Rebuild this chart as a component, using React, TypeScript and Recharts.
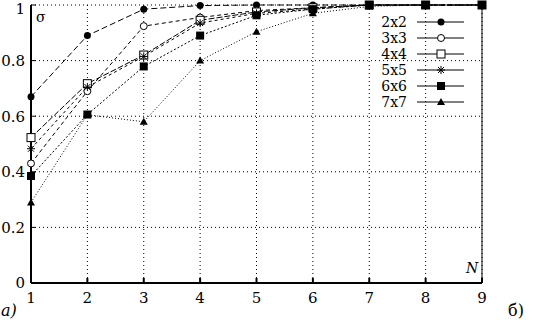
import { LineChart, Line, XAxis, YAxis, CartesianGrid, Customized } from "recharts";

// N (размер обучающей выборки) и доля σ для каждой решётки
const nValues = [1, 2, 3, 4, 5, 6, 7, 8, 9];
const yTicks = [0, 0.2, 0.4, 0.6, 0.8, 1];

const s2x2 = [0.67, 0.89, 0.985, 0.998, 1, 1, 1, 1, 1];
const s3x3 = [0.43, 0.69, 0.924, 0.955, 0.98, 0.99, 1, 1, 1];
const s4x4 = [0.523, 0.717, 0.82, 0.945, 0.975, 0.99, 1, 1, 1];
const s5x5 = [0.483, 0.705, 0.815, 0.935, 0.97, 0.985, 1, 1, 1];
const s6x6 = [0.385, 0.606, 0.779, 0.89, 0.963, 0.985, 1, 1, 1];
const s7x7 = [0.29, 0.605, 0.58, 0.8, 0.904, 0.97, 0.995, 1, 1];

const seriesNames = ["2x2", "3x3", "4x4", "5x5", "6x6", "7x7"];
const seriesValues = [s2x2, s3x3, s4x4, s5x5, s6x6, s7x7];

const FONT = "'DejaVu Serif', serif";

type Shape = "disc" | "ring" | "box" | "star" | "block" | "tri";
const shapes: Shape[] = ["disc", "ring", "box", "star", "block", "tri"];
const dashes = ["6 3", "4 3", "6 2", "3 3", "2 2", "1 2"];

const data = nValues.map((n, i) => {
  const row: Record<string, number> = { n };
  seriesNames.forEach((name, k) => {
    row[name] = seriesValues[k][i];
  });
  return row;
});

function Marker({ shape, cx, cy }: { shape: Shape; cx: number; cy: number }) {
  switch (shape) {
    case "disc":
      return <circle cx={cx} cy={cy} r={3.5} fill="#000" />;
    case "ring":
      return <circle cx={cx} cy={cy} r={3.5} fill="#fff" stroke="#000" strokeWidth={1} />;
    case "box":
      return <rect x={cx - 4} y={cy - 4} width={8} height={8} fill="#fff" stroke="#000" strokeWidth={1} />;
    case "star":
      return (
        <g stroke="#000" strokeWidth={1}>
          <line x1={cx - 4} y1={cy} x2={cx + 4} y2={cy} />
          <line x1={cx} y1={cy - 4} x2={cx} y2={cy + 4} />
          <line x1={cx - 3} y1={cy - 3} x2={cx + 3} y2={cy + 3} />
          <line x1={cx - 3} y1={cy + 3} x2={cx + 3} y2={cy - 3} />
        </g>
      );
    case "block":
      return <rect x={cx - 4} y={cy - 4} width={8} height={8} fill="#000" />;
    default:
      return <polygon points={`${cx},${cy - 4} ${cx + 4},${cy + 3} ${cx - 4},${cy + 3}`} fill="#000" />;
  }
}

function KeyBlock() {
  return (
    <g fontFamily={FONT} fontSize={14}>
      {seriesNames.map((name, k) => {
        const y = 22 + k * 16;
        return (
          <g key={name}>
            <text x={407} y={y} dy="0.355em" textAnchor="end" fill="#000">
              {name}
            </text>
            <line x1={417} y1={y} x2={464} y2={y} stroke="#000" strokeWidth={1} />
            <Marker shape={shapes[k]} cx={441} cy={y} />
          </g>
        );
      })}
      <text x={36} y={17} dy="0.355em" fill="#000">σ</text>
      <text x={466} y={268} dy="0.355em" fontStyle="italic" fill="#000">N</text>
      <text x={1} y={310} dy="0.355em" fontSize={16} fontStyle="italic" fill="#000">a)</text>
      <text x={508} y={310} dy="0.355em" fontSize={16} fill="#000">б)</text>
    </g>
  );
}

const RightTick = (props: any) => (
  <text x={531} y={props.y} dy="0.355em" textAnchor="end" fontFamily={FONT} fontSize={15} fill="#000">
    {String(props.payload.value)}
  </text>
);

export default function App() {
  return (
    <div style={{ position: "absolute", left: 0, top: 0, background: "#fff" }}>
      <LineChart width={533} height={320} data={data} margin={{ top: 5, right: 0, left: 0, bottom: 0 }}>
        <CartesianGrid stroke="#000" strokeDasharray="1 3" />
        <XAxis
          dataKey="n"
          type="number"
          domain={[1, 9]}
          ticks={nValues}
          height={37}
          tickSize={-5}
          tickMargin={14}
          stroke="#000"
          axisLine={{ stroke: "#000", strokeWidth: 2 }}
          tickLine={{ stroke: "#000", strokeWidth: 2 }}
          tick={{ fill: "#000", fontFamily: FONT, fontSize: 15 }}
        />
        <XAxis xAxisId="top" dataKey="n" type="number" domain={[1, 9]} orientation="top" height={0} tick={false} tickLine={false} stroke="#000" />
        <YAxis
          domain={[0, 1]}
          ticks={yTicks}
          width={31}
          tickSize={-5}
          tickMargin={11}
          axisLine={{ stroke: "#000", strokeWidth: 2 }}
          tickLine={{ stroke: "#000", strokeWidth: 1 }}
          tick={{ fill: "#000", fontFamily: FONT, fontSize: 15 }}
        />
        <YAxis
          yAxisId="r"
          orientation="right"
          domain={[0, 1]}
          ticks={yTicks}
          width={51}
          tickSize={-5}
          axisLine={{ stroke: "#000" }}
          tickLine={{ stroke: "#000" }}
          tick={<RightTick />}
        />
        {seriesNames.map((name, k) => (
          <Line
            key={name}
            dataKey={name}
            stroke="#000"
            strokeWidth={1}
            strokeDasharray={dashes[k]}
            isAnimationActive={false}
            dot={(p: any) => <Marker key={`${name}-${p.index}`} shape={shapes[k]} cx={p.cx} cy={p.cy} />}
            activeDot={false}
          />
        ))}
        <Customized component={<KeyBlock />} />
      </LineChart>
    </div>
  );
}
